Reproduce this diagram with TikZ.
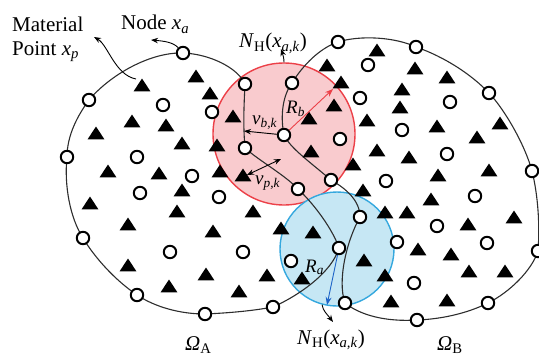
\documentclass[tikz,border=0pt]{standalone}
\usepackage{fontspec}
\setmainfont{Liberation Serif}
\usetikzlibrary{arrows.meta}
\definecolor{discred}{RGB}{249,203,206}
\definecolor{rimred}{RGB}{236,64,72}
\definecolor{discblue}{RGB}{198,231,244}
\definecolor{rimblue}{RGB}{53,168,222}
\definecolor{arrblue}{RGB}{30,100,200}
\definecolor{edgegray}{RGB}{45,45,45}
\newcommand\mv[1]{\textit{#1}}
\newcommand\NH{\mv{N}\textsubscript{H}(\mv{x}\textsubscript{\mv{a,k}})}
\begin{document}
\begin{tikzpicture}[x=1pt,y=-1pt,
  pt/.style={circle,draw=black,line width=2pt,fill=white,minimum size=12.4pt,inner sep=0pt},
  tri/.pic={\fill[black] (-8.4,6.3) -- (8.4,6.3) -- (0,-6.5) -- cycle;},
  bound/.style={draw=edgegray,line width=1.1pt},
  lbl/.style={inner sep=0pt,anchor=base west,font=\fontsize{21}{25}\selectfont},
  sym/.style={inner sep=0pt,anchor=base west,font=\fontsize{19}{22}\selectfont},
  arr/.style={line width=0.9pt,-{Stealth[length=7pt,width=5.5pt]}},
]
\useasboundingbox (0,0) rectangle (539,356);

% horizon discs
\node[circle,fill=discred,draw=rimred,line width=1.4pt,minimum size=142pt,inner sep=0pt] (hb) at (284,134) {};
\node[circle,fill=discblue,draw=rimblue,line width=1.4pt,minimum size=114pt,inner sep=0pt] (ha) at (337,249) {};

% boundary points of the two subdomains
\foreach \n/\x/\y in {a1/245/84, a2/183/53, a3/89/100, a4/67/157, a5/83/238, a6/137/295,
    a7/205/314, a8/273/307, a9/339/248, a10/298/189, a11/245/148,
    b1/292/83, b2/338/42, b3/416/47, b4/489/93, b5/532/171, b6/538/251, b7/488/303,
    b8/417/320, b9/345/303, b10/360/217, b11/331/180, b12/284/135}
  \coordinate (\n) at (\x,\y);

% subdomain A boundary
\draw[bound] (a1) .. controls (238,68) and (210,54) .. (a2)
  .. controls (150,52) and (110,75) .. (a3)
  .. controls (78,115) and (67,135) .. (a4)
  .. controls (64,185) and (70,218) .. (a5)
  .. controls (95,258) and (115,280) .. (a6)
  .. controls (155,307) and (180,314) .. (a7)
  .. controls (228,313) and (252,311) .. (a8)
  .. controls (300,295) and (332,272) .. (a9)
  .. controls (333,230) and (315,205) .. (a10)
  .. controls (285,175) and (258,160) .. (a11)
  .. controls (243,125) and (244,105) .. (a1);

% subdomain B boundary
\draw[bound] (b1) .. controls (303,65) and (320,48) .. (b2)
  .. controls (360,35) and (395,37) .. (b3)
  .. controls (445,57) and (472,75) .. (b4)
  .. controls (505,110) and (525,145) .. (b5)
  .. controls (538,195) and (540,225) .. (b6)
  .. controls (532,270) and (510,292) .. (b7)
  .. controls (470,312) and (445,319) .. (b8)
  .. controls (385,322) and (360,315) .. (b9)
  .. controls (337,280) and (347,240) .. (b10)
  .. controls (360,200) and (345,188) .. (b11)
  .. controls (310,162) and (290,148) .. (b12)
  .. controls (280,115) and (283,95) .. (b1);

% material points
\foreach \x/\y [count=\i] in {142/85, 196/76, 210/93, 233/116, 132/121, 166/125, 96/133,
    182/143, 217/145, 108/171, 159/173, 220/171, 243/175,
    377/50, 327/65, 415/68, 447/77, 341/82, 402/89, 334/105, 400/107, 309/118, 367/120,
    437/126, 500/123, 477/137, 311/151, 377/150, 409/157, 489/170, 353/164, 438/175,
    90/203, 182/190, 177/211, 253/211, 128/224, 213/231, 128/265, 206/274, 169/286,
    239/291, 267/275,
    363/190, 431/199, 385/212, 407/212, 468/224, 514/217, 281/228, 313/232, 418/249,
    451/254, 364/260, 469/271, 505/271, 385/275, 302/278, 391/301, 447/300}
  \pic (t\i) at (\x,\y) {tri};

% nodes on the boundaries
\foreach \n in {a1,a2,a3,a4,a5,a6,a7,a8,a9,a10,a11,b1,b2,b3,b4,b5,b6,b7,b8,b9,b10,b11,b12}
  \node[pt] (p\n) at (\n) {};

% interior nodes
\foreach \x/\y [count=\i] in {163/105, 212/112, 137/157, 192/176, 140/193, 219/197,
    170/252, 243/252, 368/65, 360/98, 450/102, 340/139, 402/130, 447/154, 386/181,
    475/196, 437/226, 397/242, 487/243, 291/261, 414/283}
  \node[pt] (c\i) at (\x,\y) {};

% arrow end points
\coordinate (mstart) at (136,79);
\coordinate (mtip) at (94,37);
\coordinate (ntip) at (151,40);
\coordinate (hbtip) at (281,49);
\coordinate (hatip) at (333,322);
\coordinate (rbtip) at (333,89);
\coordinate (ratip) at (327,305);
\coordinate (vbtip) at (244,131);
\coordinate (vpa) at (247,175);
\coordinate (vpb) at (281,159);

% leader arrows
\draw[arr] (mstart) .. controls (115,75) and (108,45) .. (mtip);
\draw[arr] (pa2) .. controls (173,42) and (163,41) .. (ntip);
\draw[arr] (hb.north) .. controls (284,58) and (283,55) .. (hbtip);
\draw[arr] (ha.-105) .. controls (323,311) and (327,314) .. (hatip);

% radii and vectors
\draw[arr,draw=rimred,-{Stealth[length=8pt,width=6pt]},rimred] (pb12) -- (rbtip);
\draw[arr,draw=arrblue,-{Stealth[length=8pt,width=6pt]},arrblue] (pa9) -- (ratip);
\draw[arr] (pb12) -- (vbtip);
\draw[line width=0.9pt,{Stealth[length=7pt,width=5.5pt]}-{Stealth[length=7pt,width=5.5pt]}] (vpa) -- (vpb);

% labels
\node[lbl] (tmat) at (12,31) {Material};
\node[lbl] (tpoint) at (12,55) {Point \mv{x}\textsubscript{\mv{p}}};
\node[lbl] (tnode) at (121,30) {Node \mv{x}\textsubscript{\mv{a}}};
\node[lbl] (tnhb) at (239,48) {\NH};
\node[lbl] (tnha) at (297,344) {\NH};
\node[sym] (tvb) at (252,124) {\mv{v}\textsubscript{\mv{b,k}}};
\node[sym] (tvp) at (255,184) {\mv{v}\textsubscript{\mv{p,k}}};
\node[sym] (trb) at (286,113) {\mv{R}\textsubscript{\mv{b}}};
\node[sym] (tra) at (305,272) {\mv{R}\textsubscript{\mv{a}}};
\node[lbl] (toa) at (185,350) {\mv{Ω}\textsubscript{A}};
\node[lbl] (tob) at (437,350) {\mv{Ω}\textsubscript{B}};
\end{tikzpicture}
\end{document}
